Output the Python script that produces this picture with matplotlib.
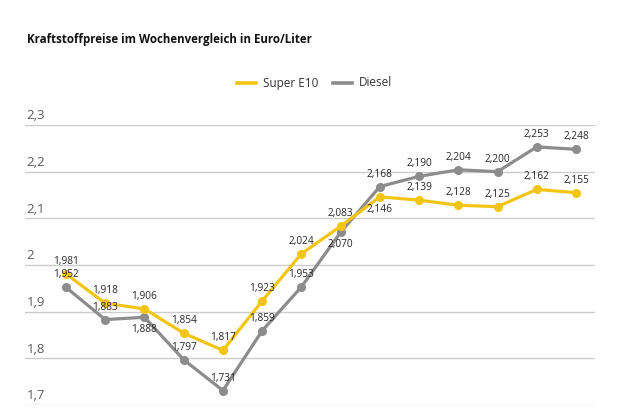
import numpy as np
import matplotlib.pyplot as plt

# weekly fuel prices in Euro/Liter
super_e10 = [1.981, 1.918, 1.906, 1.854, 1.817, 1.923, 2.024, 2.083,
             2.146, 2.139, 2.128, 2.125, 2.162, 2.155]
diesel = [1.952, 1.883, 1.888, 1.797, 1.731, 1.859, 1.953, 2.070,
          2.168, 2.190, 2.204, 2.200, 2.253, 2.248]
y_ticks = [1.7, 1.8, 1.9, 2.0, 2.1, 2.2, 2.3]
y_ticklabels = ['1,7', '1,8', '1,9', '2', '2,1', '2,2', '2,3']

# which labels sit below their point
e10_below = {8}
diesel_below = {2, 7}

yellow = '#f2c515'
grey = '#8c8c8c'

plt.rcParams['font.family'] = ['Open Sans', 'DejaVu Sans']

fig = plt.figure(figsize=(6.3, 4.12), dpi=100)
W, H = 630.0, 412.0
ax = fig.add_axes([25 / W, 7 / H, 570 / W, 280 / H])

x = np.arange(len(super_e10))
ax.set_xlim(-1.045, 13.485)
ax.set_ylim(1.7, 2.3)

for yt, lab in zip(y_ticks, y_ticklabels):
    ax.axhline(yt, color='#cccccc', lw=1.0, zorder=0)
    ax.annotate(lab, (-1.0, yt), xytext=(0, 6.5), textcoords='offset points',
                fontsize=9.5, color='#5a5a5a', ha='left', va='center')

ax.plot(x, diesel, '-o', color=grey, lw=2.3, ms=5.5, zorder=3,
        label='Diesel')
ax.plot(x, super_e10, '-o', color=yellow, lw=2.3, ms=5.5, zorder=4,
        label='Super E10')

def fmt(v):
    return ('%.3f' % v).replace('.', ',')

for i, v in enumerate(super_e10):
    off = -9 if i in e10_below else 9
    ax.annotate(fmt(v), (x[i], v), xytext=(0, off), textcoords='offset points',
                ha='center', va='center', fontsize=7.3, color='#262626', zorder=6)
for i, v in enumerate(diesel):
    off = -9 if i in diesel_below else 9
    ax.annotate(fmt(v), (x[i], v), xytext=(0, off), textcoords='offset points',
                ha='center', va='center', fontsize=7.3, color='#262626', zorder=6)

ax.axis('off')

fig.text(27 / W, 1 - 40 / H, 'Kraftstoffpreise im Wochenvergleich in Euro/Liter',
         fontsize=8.3, fontweight='bold', color='#111111', ha='left', va='center')

# legend drawn by hand in figure coords
ly = 1 - 83 / H
fig.add_artist(plt.Line2D([237 / W, 256 / W], [ly, ly], color=yellow, lw=2.6))
fig.text(263 / W, ly, 'Super E10', fontsize=8.5, color='#333333', va='center')
fig.add_artist(plt.Line2D([333 / W, 352 / W], [ly, ly], color=grey, lw=2.6))
fig.text(359 / W, ly, 'Diesel', fontsize=8.5, color='#333333', va='center')

fig.savefig('out.png', dpi=100, facecolor='white')
